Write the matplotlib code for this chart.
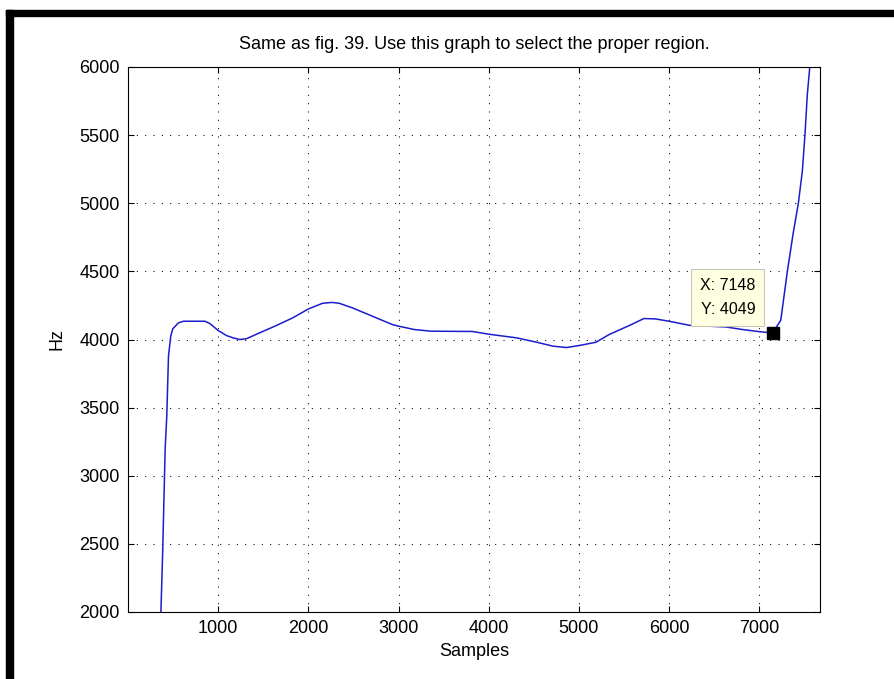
import matplotlib
matplotlib.use('Agg')
import matplotlib.pyplot as plt
from matplotlib.patches import Rectangle

plt.rcParams['font.family'] = ['Liberation Sans', 'DejaVu Sans']

# valores
samples = [365, 385, 412, 430, 449, 474, 496, 559, 614, 853, 908, 1000, 1092, 1165,
           1239, 1312, 1460, 1643, 1827, 2000, 2158, 2260, 2342, 2489, 2710, 2930,
           3000, 3176, 3359, 3817, 4000, 4311, 4531, 4714, 4861, 5007, 5190, 5337,
           5557, 5722, 5850, 6000, 6228, 6632, 6816, 7018, 7148, 7239, 7312, 7375,
           7434, 7478, 7507, 7533, 7559, 7575]
freq_hz = [2000, 2450, 3195, 3439, 3878, 4024, 4078, 4122, 4134, 4134, 4117, 4066,
           4029, 4012, 4000, 4005, 4049, 4102, 4159, 4224, 4266, 4272, 4266, 4232,
           4171, 4110, 4098, 4073, 4061, 4059, 4039, 4012, 3980, 3951, 3941, 3956,
           3980, 4037, 4102, 4154, 4151, 4134, 4104, 4092, 4073, 4056, 4049, 4141,
           4500, 4773, 5000, 5234, 5500, 5795, 5988, 6100]
x_ticks = [1000, 2000, 3000, 4000, 5000, 6000, 7000]
y_ticks = [2000, 2500, 3000, 3500, 4000, 4500, 5000, 5500, 6000]
tip_x, tip_y = 7148, 4049

fig = plt.figure(figsize=(8.94, 6.79), dpi=100)
ax = fig.add_axes([128/894, 1-612/679, 692/894, 545/679])

ax.plot(samples, freq_hz, color='#1c1ccc', lw=1.1)
ax.plot([tip_x], [tip_y], marker='s', color='black', markersize=8.5, ls='none')
ax.annotate('X: %d\nY: %d' % (tip_x, tip_y), xy=(tip_x, tip_y), xytext=(-17, 16),
            textcoords='offset pixels', ha='right', va='bottom', fontsize=11.5,
            linespacing=1.75,
            bbox=dict(boxstyle='square,pad=0.55', fc='#ffffe1', ec='#c8c8b4', lw=0.8))

ax.set_xlim(0, 7674)
ax.set_ylim(2000, 6000)
ax.set_xticks(x_ticks)
ax.set_yticks(y_ticks)
ax.grid(True, color='black', linestyle=(0, (1, 7)), lw=0.75)
ax.tick_params(direction='in', length=4.5, width=0.8, top=True, right=True,
               labelsize=13, pad=6)
for s in ax.spines.values():
    s.set_linewidth(0.8)

ax.set_title('Same as fig. 39. Use this graph to select the proper region.',
             fontsize=13, pad=13)
ax.set_xlabel('Samples', fontsize=13, labelpad=4)
ax.set_ylabel('Hz', fontsize=13, labelpad=10)

# moldura preta da imagem original
fig.patches.append(Rectangle((6/894, 0), 7/894, 1 - 10/679, transform=fig.transFigure,
                             color='black', zorder=10))
fig.patches.append(Rectangle((6/894, 1 - 16/679), 1, 6/679, transform=fig.transFigure,
                             color='black', zorder=10))

fig.savefig('out.png', dpi=100)
